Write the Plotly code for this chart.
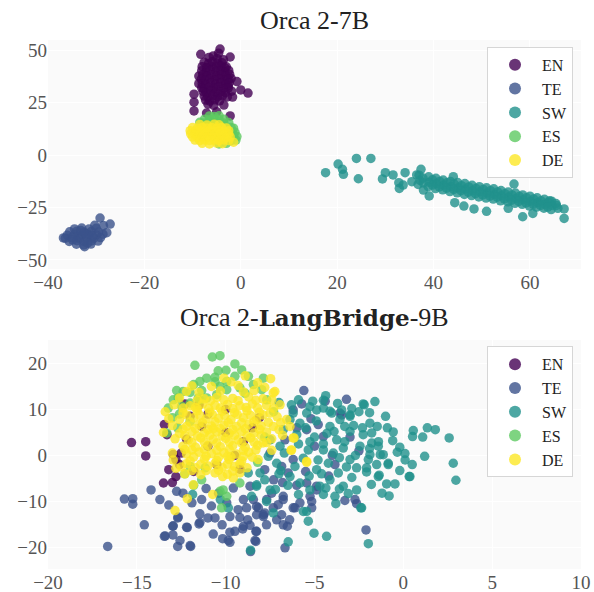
import plotly.graph_objects as go
from plotly.subplots import make_subplots

LANGS = ["EN", "TE", "SW", "ES", "DE"]
COLORS = ["#440154", "#3b528b", "#21918c", "#5ec962", "#fde725"]
TITLES = ["Orca 2-7B",
          "Orca 2-<span style=\"font-family:'DejaVu Serif';font-size:23px\"><b>LangBridge</b></span>-9B"]

# ---------------- top panel: Orca 2-7B ----------------
EN_TOP = [(-8.3, 48), (-4.3, 50.5), (-4.6, 48.5), (-2.2, 46.7), (-0.8, 35), (0.0, 31), (1.5, 29.5),
          (-1.7, 27.6), (-2.2, 18.6), (-9.7, 29), (-9.7, 25.2), (-9.7, 21), (-7.1, 20), (-5.0, 20.6),
          (-3.5, 23.8), (-8.7, 37.6), (-8.7, 34), (-2.6, 33), (-2.0, 36.5), (-3.0, 42),
          (-6.6, 46.5), (-5.7, 47.2), (-4.9, 46), (-3.6, 45.4),
          (-7.6, 44.2), (-6.7, 43.6), (-5.9, 44.4), (-4.8, 43.8), (-3.9, 44),
          (-8.0, 42.1), (-7.1, 41.6), (-6.0, 42.3), (-5.1, 41.8), (-4.1, 42.4), (-3.3, 41.5),
          (-8.1, 40.2), (-7.2, 39.6), (-6.3, 40.4), (-5.2, 39.8), (-4.3, 40.1), (-3.3, 39.5), (-2.5, 40.3),
          (-7.9, 38.1), (-7.0, 37.7), (-6.1, 38.3), (-5.0, 37.6), (-4.1, 38.2), (-3.1, 37.8), (-2.3, 38.4),
          (-8.2, 36.1), (-7.4, 35.7), (-6.4, 36.3), (-5.4, 35.8), (-4.4, 36.2), (-3.4, 35.6), (-2.6, 36.0),
          (-8.0, 34.0), (-7.2, 33.6), (-6.2, 34.3), (-5.2, 33.8), (-4.2, 34.2), (-3.2, 33.7), (-2.4, 34.4),
          (-8.1, 32.0), (-7.6, 31.5), (-6.6, 32.2), (-5.6, 31.7), (-4.6, 32.3), (-3.6, 31.6), (-2.6, 31.9),
          (-7.8, 30.2), (-7.1, 29.6), (-6.2, 30.3), (-5.2, 29.8), (-4.2, 30.1), (-3.2, 29.7), (-1.9, 30.4),
          (-7.6, 28.1), (-6.8, 27.6), (-5.8, 28.3), (-4.8, 27.8), (-3.8, 28.2), (-2.8, 27.7),
          (-7.3, 26.2), (-6.4, 25.7), (-5.4, 26.3), (-4.4, 25.8), (-6.8, 24.2), (-5.6, 23.7)]

TE_TOP = [(-34.5, -35.2), (-33.0, -34.8), (-31.5, -35.3), (-30.0, -34.9),
          (-35.5, -36.6), (-34.0, -36.3), (-32.5, -36.8), (-31.0, -36.4), (-29.5, -36.7),
          (-36.0, -38.2), (-34.5, -37.8), (-33.0, -38.3), (-31.5, -37.9), (-30.0, -38.1), (-28.6, -37.7),
          (-36.4, -39.6), (-35.0, -39.3), (-33.5, -39.8), (-32.0, -39.4), (-30.5, -39.7), (-29.1, -39.3),
          (-35.6, -41.2), (-34.0, -40.8), (-32.5, -41.3), (-31.0, -40.9), (-29.6, -41.0),
          (-34.1, -42.5), (-32.6, -42.8), (-31.1, -42.4), (-32.4, -43.7),
          (-33.8, -38.9), (-32.2, -37.4), (-30.8, -38.6), (-34.9, -40.4), (-31.8, -41.9), (-33.2, -35.9),
          (-29.2, -30.0), (-27.1, -32.9), (-27.8, -37.0), (-36.8, -39.5), (-28.5, -33.6), (-30.3, -33.5)]

SW_TOP = [(17.6, -8.4), (20.2, -4.3), (21.1, -6.8), (21.3, -9.2), (24.0, -1.6), (27.0, -1.6),
          (24.4, -11.3), (29.4, -11.4), (30.0, -8.4), (31.6, -9.5), (34.1, -8.4), (32.8, -13.2),
          (33.7, -14.3), (32.9, -15.9), (35.5, -12.7), (36.5, -9.5), (37.4, -6.8), (37.9, -16.7),
          (39.1, -19.5), (44.4, -22.7), (46.3, -24.3), (48.4, -25.7), (51.0, -26.8), (55.5, -25.4),
          (56.7, -13.8), (58.5, -29.4), (60.6, -27.8), (67.1, -25.7), (67.1, -30.2), (65.5, -24.0),
          (64.1, -21.8), (44.1, -10.3),
          (37.0, -9.6), (37.2, -12.1), (36.8, -14.0),
          (39.0, -10.4), (39.1, -13.0), (38.9, -15.1),
          (40.5, -11.1), (40.6, -13.6), (40.4, -16.0),
          (42.0, -11.9), (42.1, -14.3), (41.9, -16.6),
          (43.5, -12.6), (43.6, -15.0), (43.4, -17.4),
          (45.0, -13.1), (45.1, -15.6), (44.9, -18.0),
          (46.5, -13.6), (46.6, -16.2), (46.4, -18.8),
          (48.0, -14.4), (48.1, -17.0), (47.9, -19.3),
          (49.5, -15.1), (49.6, -17.5), (49.4, -20.0),
          (51.0, -15.6), (51.1, -18.1), (50.9, -20.5),
          (52.5, -16.1), (52.6, -18.7), (52.4, -21.0),
          (54.0, -16.9), (54.1, -19.4), (53.9, -21.8),
          (55.5, -17.6), (55.6, -20.0), (55.4, -22.3),
          (57.0, -18.1), (57.1, -20.7), (56.9, -23.0),
          (58.5, -19.0), (58.6, -21.3), (58.4, -23.5),
          (60.0, -19.6), (60.1, -22.0), (59.9, -24.3),
          (61.5, -20.4), (61.6, -22.7), (61.4, -24.8),
          (63.0, -21.1), (63.1, -23.4), (62.9, -25.3),
          (64.5, -22.0), (64.6, -24.0), (64.4, -26.0),
          (37.8, -11.0), (37.9, -13.3), (39.8, -11.8), (39.8, -14.3), (41.3, -12.6), (41.2, -15.2),
          (42.8, -13.2), (42.7, -15.8), (44.3, -13.8), (44.2, -16.4), (45.8, -14.6), (45.7, -17.0),
          (47.3, -15.2), (47.2, -17.7), (48.8, -15.9), (48.7, -18.4), (50.3, -16.4), (50.2, -19.0),
          (51.8, -17.0), (51.7, -19.6), (53.3, -17.6), (53.2, -20.1), (54.8, -18.4), (54.7, -20.9),
          (56.3, -19.0), (56.2, -21.5), (57.8, -19.7), (57.7, -22.1), (59.3, -20.4), (59.2, -22.8),
          (60.8, -21.0), (60.7, -23.5), (62.3, -21.8), (62.2, -24.0), (63.8, -22.6), (63.7, -24.8),
          (65.4, -23.1), (65.8, -25.4)]

ES_TOP = [(-6.5, 18.6), (-5.5, 18.3), (-4.5, 18.7),
          (-7.5, 17.1), (-6.5, 16.8), (-5.5, 17.2), (-4.5, 16.9), (-3.5, 17.0),
          (-8.5, 15.6), (-7.5, 15.3), (-6.5, 15.7), (-5.5, 15.4), (-4.5, 15.6), (-3.5, 15.3), (-2.5, 15.5),
          (-2.0, 13.1), (-1.5, 12.8), (-1.8, 11.1), (-1.2, 10.8), (-1.5, 9.1), (-0.8, 8.8),
          (-1.0, 7.1), (-2.0, 6.8), (-3.0, 5.6), (-4.5, 5.3), (-6.0, 10.0), (-8.0, 9.0), (-4.0, 8.0)]

DE_TOP = [(-8.5, 14.6), (-7.0, 14.3), (-5.5, 14.7), (-4.5, 14.4),
          (-10.0, 13.1), (-9.0, 12.8), (-8.0, 13.2), (-7.0, 12.9), (-6.0, 13.1), (-5.0, 12.8), (-4.0, 13.2), (-3.0, 12.9),
          (-10.5, 11.6), (-9.5, 11.3), (-8.5, 11.7), (-7.5, 11.4), (-6.5, 11.6), (-5.5, 11.3), (-4.5, 11.7), (-3.5, 11.4), (-2.5, 11.6),
          (-10.4, 10.1), (-9.5, 9.8), (-8.5, 10.2), (-7.5, 9.9), (-6.5, 10.1), (-5.5, 9.8), (-4.5, 10.2), (-3.5, 9.9), (-2.5, 10.1),
          (-10.0, 8.6), (-9.0, 8.3), (-8.0, 8.7), (-7.0, 8.4), (-6.0, 8.6), (-5.0, 8.3), (-4.0, 8.7), (-3.0, 8.4), (-2.2, 8.6),
          (-9.5, 7.1), (-8.5, 6.8), (-7.5, 7.2), (-6.5, 6.9), (-5.5, 7.1), (-4.5, 6.8), (-3.5, 7.2), (-2.5, 6.9),
          (-8.0, 5.6), (-6.5, 5.3), (-5.0, 5.7), (-3.8, 5.4), (-1.5, 6.1)]

# ---------------- bottom panel: Orca 2-LangBridge-9B ----------------
EN_BOT = [(-15.3, 2.8), (-14.5, 3.0), (-14.5, -0.1), (-13.45, 6.7), (-13.2, -3.1), (-13.5, -6.0),
          (-13.0, -5.9), (-12.8, -4.6), (-12.8, -0.9), (-12.0, 8.5), (-11.35, 6.3), (-12.95, 0.2),
          (-12.5, 0.5), (-8.1, 8.2), (-13.3, 4.5), (-12.6, -2.0), (-11.8, -3.5), (-12.2, 3.5),
          (-11.0, 2.0), (-10.0, 5.0), (-9.5, 0.0), (-10.5, -2.0), (-9.0, 3.0), (-11.0, 9.0),
          (-10.0, 10.0), (-8.5, 6.0), (-11.5, 11.0), (-12.3, 11.2), (-9.2, -3.0)]

TE_BOT = [(-16.64, -19.8), (-15.7, -9.5), (-15.23, -9.4), (-15.23, -10.6), (-14.58, -15.1), (-14.2, -7.5),
          (-13.7, -9.6), (-13.45, -17.6), (-12.97, -17.3), (-12.98, -15.4), (-12.7, -13.6), (-12.7, -19.8),
          (-12.57, -18.5), (-12.16, -15.7), (-11.97, -19.8), (-12.76, -7.8), (-12.4, -8.2), (-11.9, -10.3),
          (-11.45, -12.7), (-11.45, -14.6), (-11.35, -9.6), (-11.0, -13.6), (-10.7, -17.1), (-10.2, -15.1),
          (-10.17, -18.1), (-9.76, -18.9), (-9.48, -16.5), (-9.04, -16.0), (-8.63, -15.2), (-8.6, -20.9),
          (-8.3, -18.7), (-8.3, -16.5), (-8.82, -11.4), (-9.0, -9.6), (-9.57, -7.1), (-9.94, -10.3),
          (-10.4, -8.2), (-8.63, -6.7), (-8.44, -9.6), (-8.16, -11.4), (-7.88, -13.3), (-7.69, -9.6),
          (-7.41, -8.2), (-7.32, -11.4), (-7.13, -14.0), (-6.76, -9.6), (-6.66, -20.1), (-6.53, -15.4),
          (-6.48, -3.8), (-6.2, 9.9), (-6.8, -5.9), (-10.6, -13.6), (-12.67, -13.4), (-12.2, -15.6),
          (-12.95, -15.3), (-13.4, -17.5), (-12.0, -19.6), (-9.76, -16.7), (-11.5, -14.9), (-9.76, -13.3),
          (-9.0, -15.4), (-8.76, -14.0), (-8.26, -12.9), (-7.88, -12.9), (-8.26, -16.5), (-8.35, -18.5),
          (-9.85, -18.5), (-5.6, 14.1), (-5.72, 11.2), (-4.79, 6.7), (-4.5, 4.1), (-3.47, 8.8),
          (-5.44, -6.0), (-4.88, -6.7), (-5.25, -8.9), (-6.1, -11.4), (-5.16, -11.4), (-3.29, -9.8),
          (-2.72, -9.6), (-2.63, -10.5), (-2.1, -16.2), (-6.4, -14.0), (-6.66, 3.4), (-6.85, -2.4),
          (-7.8, -3.1), (-7.3, -5.3), (-6.76, -8.9), (-7.04, -10.7), (-6.85, -12.9), (-7.8, -12.5),
          (-8.26, -11.1), (-7.7, -15.1), (-6.76, -15.1), (-6.2, -11.4), (-5.82, -10.3), (-5.16, -10.0),
          (-5.44, 5.6), (-3.57, 9.2), (-6.2, -0.9), (-3.85, -2.0), (-4.88, -7.5), (-5.0, 2.0),
          (-4.0, 0.0), (-6.0, 6.0), (-3.0, 4.0), (-2.5, 1.0), (-5.5, -3.5), (-4.2, -4.5), (-7.5, 0.5),
          (-6.0, -6.5), (-9.3, -11.8), (-10.8, -11.0), (-13.2, -10.8), (-11.1, -7.2), (-9.2, -13.5),
          (-4.4, 11.8), (-5.2, 8.0), (-3.2, 12.2)]

SW_BOT = [(-4.37, 13.0), (-2.2, 11.0), (-1.6, 11.7), (1.35, 6.0), (0.56, 5.4), (0.52, 4.1), (1.09, 4.0),
          (2.58, 3.8), (2.81, -1.7), (2.96, -5.4), (1.2, -0.2), (0.09, 0.4), (-0.34, 0.7), (-0.57, 5.1),
          (-1.47, 6.3), (-1.88, 7.0), (-2.26, 4.5), (-1.4, 3.0), (-1.88, 0.15), (-1.3, 0.15), (-0.85, -1.7),
          (-0.94, -6.2), (-0.47, -6.2), (-0.8, -8.8), (0.33, -4.6), (-1.36, -4.3), (-2.07, -3.6),
          (-2.63, -7.5), (-3.6, -7.3), (-3.85, -8.9), (-4.36, -7.1), (-5.35, -14.3), (-5.03, -16.9),
          (-4.32, -17.6), (-1.97, -19.2), (-2.39, -11.4), (-5.63, -12.2), (-3.47, 9.9), (-3.0, 8.8),
          (-4.03, 9.2), (-4.5, 10.3), (-5.26, 10.6), (-2.26, 11.2), (-1.13, 0.15), (-1.5, -2.0),
          (-0.85, -2.0), (0.37, -4.6), (-1.41, -4.6), (-2.07, -2.7), (-2.63, -2.7), (-1.97, -0.9),
          (-3.0, -0.9), (-2.44, 2.0), (-1.78, 2.7), (-1.41, 2.0), (-1.78, 4.9), (-3.0, 5.2), (-3.75, 3.4),
          (-4.13, 6.3), (-3.57, 7.8), (-3.0, 8.5), (-4.13, 9.6), (-4.88, 9.9), (-5.44, 9.2), (-6.2, 9.2),
          (-6.38, 7.8), (-5.35, 1.2), (-4.5, 1.2), (-3.94, 0.5), (-3.38, 1.6), (-4.22, -1.7), (-4.88, -3.1),
          (-3.66, -3.8), (-3.38, -6.7), (-4.13, -5.3), (-4.7, -6.7), (-5.26, -7.5), (-5.82, -6.0),
          (-6.38, -4.6), (-7.13, -1.7), (-7.6, -0.2), (-8.07, -3.8), (-8.26, -6.7), (-7.5, -7.5),
          (-6.1, -2.4), (-5.63, -0.6), (-6.94, 2.0), (-6.76, 5.6), (-6.0, 4.5), (-5.82, 7.0), (-5.26, 3.0),
          (-7.5, 3.4), (-2.35, -11.4), (-5.44, -12.2), (-11.86, -8.5), (-10.3, -9.6), (-9.85, -11.4),
          (-7.32, -12.5), (-6.48, -18.8), (-8.6, -20.6), (-8.54, -8.9), (-7.7, -10.0), (-8.26, -6.4),
          (-8.73, -3.8), (-5.0, 4.0), (-4.5, 2.5), (-3.3, 3.0), (-2.8, 6.5), (-5.5, 6.0), (-4.8, -1.0),
          (-3.2, -2.5), (-2.7, 0.0), (-6.5, -6.5), (-7.0, -4.0), (-5.3, -4.5), (-4.5, -8.5), (-3.8, -10.5),
          (-1.0, 8.5), (-0.2, -3.3), (0.5, -2.0), (-7.2, -7.4), (-6.7, 0.5), (-1.2, -8.2), (-0.2, 1.8),
          (-2.5, 9.5), (-4.5, 12.0), (-5.9, 12.1), (-7.0, 11.5),
          (-3.7, 11.3), (-2.9, 10.2), (-1.9, 9.3), (-4.9, 7.5), (-3.9, 5.2), (-2.3, 6.0), (-0.9, 6.0),
          (-5.9, 2.5), (-4.3, 4.8), (-3.6, -0.5), (-2.9, -4.8), (-1.8, -6.3), (-4.6, -4.0), (-5.9, -8.5),
          (-3.1, -8.3), (-1.9, 1.5), (0.1, -1.0), (-0.6, 3.2), (1.8, 5.6), (-6.9, -3.3), (-7.8, -5.3),
          (-6.3, 11.0), (-5.1, 11.8), (-3.3, 6.3)]

ES_BOT = [(-10.75, 21.4), (-10.32, 21.7), (-11.73, 19.6), (-9.48, 19.9), (-10.42, 18.4), (-9.98, 18.5),
          (-10.6, 17.0), (-9.1, 18.6), (-8.72, 17.2), (-7.88, 16.8), (-11.45, 16.1), (-11.07, 16.8),
          (-12.76, 14.1), (-12.39, 13.9), (-12.0, 13.7), (-11.35, 14.1), (-13.23, 10.3), (-12.95, 12.1),
          (-12.48, 10.7), (-12.0, 11.4), (-11.45, 12.1), (-11.07, 12.5), (-9.94, 14.3), (-9.2, 14.7),
          (-8.44, 15.4), (-7.69, 12.1), (-13.32, 4.9), (-12.0, -2.4), (-11.35, -5.3), (-10.32, -7.8),
          (-10.23, -11.4), (-9.94, -8.9), (-12.67, 12.5), (-11.54, 12.5), (-10.5, 13.2), (-10.32, 15.0),
          (-9.94, 16.1), (-9.48, 17.2), (-7.97, 14.3), (-12.0, 7.4), (-10.14, -7.5), (-11.16, -2.7),
          (-12.6, 9.0), (-13.0, 8.2), (-12.7, 6.0), (-7.3, 9.5), (-7.8, 4.0), (-8.2, -1.5), (-11.8, -6.5),
          (-12.3, -4.0), (-9.2, -6.0), (-10.6, 16.0), (-11.8, 15.4), (-8.9, 13.5)]

DE_BOT = [(-8.9, 17.3), (-7.47, 16.7), (-9.7, 16.0), (-8.2, 15.8),
          (-10.8, 15.0), (-9.3, 15.2), (-7.8, 14.8),
          (-12.2, 13.9), (-11.5, 13.7), (-10.3, 14.0), (-9.0, 13.8), (-7.23, 13.9), (-7.32, 13.6),
          (-12.6, 12.5), (-11.2, 12.3), (-10.5, 12.6), (-9.6, 12.4), (-8.7, 12.7), (-7.9, 12.3),
          (-12.9, 11.0), (-12.0, 10.8), (-11.3, 11.2), (-10.6, 10.9), (-9.9, 11.1), (-9.2, 10.8),
          (-8.5, 11.2), (-7.7, 10.9), (-6.94, 11.0),
          (-13.4, 9.5), (-12.4, 9.3), (-11.6, 9.7), (-10.9, 9.4), (-10.2, 9.6), (-9.5, 9.3), (-8.8, 9.7),
          (-8.1, 9.4), (-7.5, 9.2),
          (-13.2, 8.0), (-12.6, 7.8), (-11.8, 8.2), (-11.1, 7.9), (-10.4, 8.1), (-9.7, 7.8), (-9.0, 8.2),
          (-8.26, 7.8), (-6.57, 7.8),
          (-13.0, 6.5), (-12.2, 6.3), (-11.5, 6.7), (-10.8, 6.4), (-10.1, 6.6), (-9.4, 6.3), (-8.7, 6.7),
          (-8.0, 6.4), (-7.32, 6.3), (-6.38, 6.3),
          (-13.5, 5.0), (-12.6, 4.8), (-11.9, 5.2), (-11.2, 4.9), (-10.5, 5.1), (-9.8, 4.8), (-9.1, 5.2),
          (-8.4, 4.9), (-7.7, 5.1),
          (-12.85, 3.6), (-12.1, 3.4), (-11.4, 3.8), (-10.7, 3.5), (-10.0, 3.7), (-9.3, 3.4), (-8.6, 3.8),
          (-7.41, 3.6), (-6.2, 3.8), (-6.15, 3.8),
          (-12.4, 2.0), (-11.7, 1.8), (-11.0, 2.2), (-10.3, 1.9), (-9.6, 2.1), (-8.9, 1.8), (-8.2, 2.2),
          (-7.41, 1.1), (-6.32, 1.1), (-6.29, 1.2),
          (-13.0, 0.5), (-12.2, 0.3), (-11.5, 0.7), (-10.8, 0.4), (-10.1, 0.6), (-9.4, 0.3), (-8.7, 0.7),
          (-12.95, -1.0), (-12.0, -1.2), (-11.2, -0.8), (-10.5, -1.1), (-9.8, -0.9), (-9.1, -1.2),
          (-8.17, -0.9), (-5.44, -1.3), (-5.44, -1.5),
          (-12.5, -2.5), (-11.7, -2.7), (-11.0, -2.3), (-10.2, -2.6), (-9.5, -2.4), (-8.8, -2.7),
          (-12.3, -4.0), (-11.4, -4.2), (-10.6, -3.8), (-9.9, -4.1), (-9.2, -3.8),
          (-11.82, -6.4), (-10.17, -4.6), (-9.57, -4.9), (-12.16, -9.4), (-10.73, -8.5), (-12.85, -12.0),
          (-11.9, 15.1), (-10.1, 16.8), (-8.4, 14.1), (-11.6, 10.2), (-9.1, 7.1), (-10.7, 5.8),
          (-12.3, 1.3), (-9.9, -0.2), (-11.1, -3.3), (-7.9, 2.7), (-7.1, 8.4), (-12.8, -2.8),
          (-11.6, 12.0), (-10.85, 11.9), (-10.1, 12.1), (-9.3, 11.9), (-8.3, 12.0), (-7.4, 12.1),
          (-12.4, 10.3), (-11.7, 10.4), (-10.95, 10.2), (-10.3, 10.3), (-9.6, 10.2), (-8.85, 10.4), (-8.2, 10.3), (-7.3, 10.2),
          (-12.2, 8.8), (-11.45, 8.7), (-10.75, 8.9), (-10.05, 8.7), (-9.35, 8.9), (-8.6, 8.7), (-7.9, 8.8),
          (-12.0, 7.2), (-11.3, 7.1), (-10.6, 7.3), (-9.85, 7.1), (-8.4, 7.3), (-7.6, 7.2), (-6.9, 7.1),
          (-12.4, 5.7), (-11.7, 5.8), (-11.0, 5.6), (-10.3, 5.8), (-9.6, 5.6), (-8.9, 5.8), (-8.1, 5.7), (-7.0, 5.6),
          (-12.3, 4.3), (-11.6, 4.2), (-10.9, 4.4), (-10.2, 4.2), (-9.5, 4.4), (-8.8, 4.2), (-8.0, 4.3), (-6.8, 4.4),
          (-11.9, 2.8), (-11.2, 2.9), (-10.5, 2.7), (-9.8, 2.9), (-9.1, 2.7), (-8.4, 2.9), (-7.7, 2.8),
          (-11.9, 1.2), (-11.2, 1.3), (-10.5, 1.1), (-9.8, 1.3), (-9.0, 1.1), (-8.3, 1.2),
          (-11.8, -0.3), (-11.1, -0.2), (-10.4, -0.4), (-9.7, -0.3), (-9.0, -0.2), (-8.5, -0.4),
          (-12.2, -1.8), (-11.4, -1.9), (-10.6, -1.7), (-9.9, -1.9), (-9.2, -1.8),
          (-11.9, -3.3), (-10.4, -3.2), (-9.6, -3.4)]

TOP = [EN_TOP, TE_TOP, SW_TOP, ES_TOP, DE_TOP]
BOT = [EN_BOT, TE_BOT, SW_BOT, ES_BOT, DE_BOT]

FONT = "Liberation Serif"

fig = make_subplots(rows=2, cols=1, vertical_spacing=0.1342)
fig.update_yaxes(domain=[0.5671, 1.0], row=1, col=1)
fig.update_yaxes(domain=[0.0, 0.4329], row=2, col=1)

for row, groups, leg in [(1, TOP, "legend"), (2, BOT, "legend2")]:
    for name, color, pts in zip(LANGS, COLORS, groups):
        fig.add_trace(go.Scatter(
            x=[p[0] for p in pts], y=[p[1] for p in pts], mode="markers", name=name,
            marker=dict(color=color, size=9.5, opacity=0.8, line=dict(width=0)),
            legend=leg, showlegend=True), row=row, col=1)

axis_common = dict(showgrid=True, gridcolor="white", gridwidth=1, zeroline=False, showline=False,
                   ticks="", automargin=False, tickfont=dict(family=FONT, size=19, color="#555555"))
fig.update_xaxes(**axis_common)
fig.update_yaxes(**axis_common)
fig.update_xaxes(range=[-40, 70.6], tickvals=[-40, -20, 0, 20, 40, 60], row=1, col=1)
fig.update_yaxes(range=[-54.3, 54.8], tickvals=[-50, -25, 0, 25, 50], row=1, col=1)
fig.update_xaxes(range=[-20, 10], tickvals=[-20, -15, -10, -5, 0, 5, 10], row=2, col=1)
fig.update_yaxes(range=[-24.7, 25.1], tickvals=[-20, -10, 0, 10, 20], row=2, col=1)

legend_style = dict(font=dict(family=FONT, size=16, color="#222"), bgcolor="rgba(255,255,255,0.85)",
                    bordercolor="#d6d6d6", borderwidth=1, xanchor="right", yanchor="top",
                    tracegroupgap=0, itemsizing="constant", itemwidth=44)
fig.update_layout(
    width=594, height=592,
    margin=dict(l=48, r=13, t=40, b=23, autoexpand=False),
    paper_bgcolor="white", plot_bgcolor="#fafafa",
    legend=dict(x=0.985, y=0.987, **legend_style),
    legend2=dict(x=0.985, y=0.421, **legend_style),
    annotations=[
        dict(text=TITLES[0], x=0.5, y=1.0378, xref="paper", yref="paper", xanchor="center",
             yanchor="middle", showarrow=False, font=dict(family=FONT, size=26, color="#222")),
        dict(text=TITLES[1], x=0.5, y=0.4745, xref="paper", yref="paper", xanchor="center",
             yanchor="middle", showarrow=False, font=dict(family=FONT, size=26, color="#222")),
    ],
)

fig.write_html("out.html", config={"displayModeBar": False},
               post_script="document.body.style.margin='0px';document.body.style.padding='0px';")
